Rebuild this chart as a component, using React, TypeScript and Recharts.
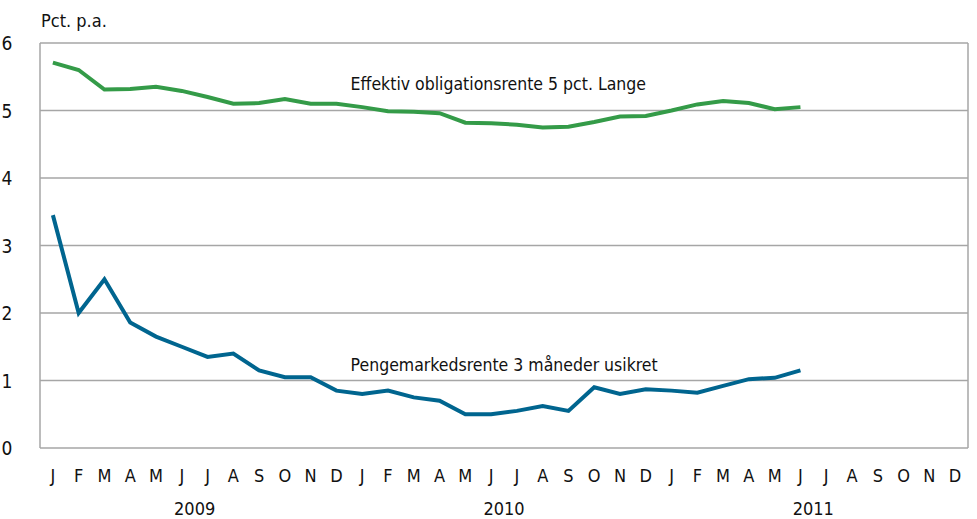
import React from "react";
import {
  LineChart,
  Line,
  XAxis,
  YAxis,
  CartesianGrid,
  ReferenceDot,
} from "recharts";

const monthLetters = ["J", "F", "M", "A", "M", "J", "J", "A", "S", "O", "N", "D"];
const years = ["2009", "2010", "2011"];

const obligationsrente = [
  5.71, 5.6, 5.31, 5.32, 5.35, 5.29, 5.2, 5.1, 5.11, 5.17, 5.1, 5.1,
  5.05, 4.99, 4.98, 4.96, 4.82, 4.81, 4.79, 4.75, 4.76, 4.83, 4.91, 4.92,
  5.0, 5.09, 5.14, 5.11, 5.02, 5.05,
];
const pengemarkedsrente = [
  3.45, 2.0, 2.5, 1.86, 1.65, 1.5, 1.35, 1.4, 1.15, 1.05, 1.05, 0.85,
  0.8, 0.85, 0.75, 0.7, 0.5, 0.5, 0.55, 0.62, 0.55, 0.9, 0.8, 0.87,
  0.85, 0.82, 0.92, 1.02, 1.04, 1.15,
];

const yTicks = [0, 1, 2, 3, 4, 5, 6];
const yearBoundaries = [0, 12, 24, 36];
const monthTicks = Array.from({ length: 36 }, (_, i) => i + 0.5);
const yearTicks = [6, 18, 30];

const data = obligationsrente.map((v, i) => ({
  t: i + 0.5,
  obl: v,
  pm: pengemarkedsrente[i],
}));

const FONT = "'Liberation Sans Narrow', 'DejaVu Sans Condensed', 'Roboto', sans-serif";
const TEXT = "#111";

const YTick = (props: any) => {
  const { x, y, payload } = props;
  return (
    <text x={x - 25} y={y} dy={7} textAnchor="middle" fontFamily={FONT} fontSize={19} fill={TEXT}>
      {payload.value}
    </text>
  );
};

const MonthTick = (props: any) => {
  const { x, y, payload } = props;
  const idx = Math.floor(payload.value) % 12;
  return (
    <text x={x} y={y} dy={32} textAnchor="middle" fontFamily={FONT} fontSize={18} fill={TEXT}>
      {monthLetters[idx]}
    </text>
  );
};

const YearTick = (props: any) => {
  const { x, y, payload } = props;
  const idx = Math.floor(payload.value / 12);
  return (
    <text x={x} y={y} dy={25} textAnchor="middle" fontFamily={FONT} fontSize={18} fill={TEXT}>
      {years[idx]}
    </text>
  );
};

const makeLabel = (text: string) => (props: any) => {
  const { viewBox } = props;
  return (
    <text x={viewBox.x} y={viewBox.y} dy={6} textAnchor="start" fontFamily={FONT} fontSize={17.5} fill={TEXT}>
      {text}
    </text>
  );
};

export default function App() {
  return (
    <div style={{ position: "absolute", left: 0, top: 0, width: 977, height: 519, background: "#fff" }}>
      <LineChart
        width={977}
        height={519}
        data={data}
        margin={{ top: 43, right: 9, left: 0, bottom: 0 }}
      >
        <text x={41} y={27} fontFamily={FONT} fontSize={18} fill={TEXT}>
          Pct. p.a.
        </text>
        <CartesianGrid stroke="#a6a6a6" strokeWidth={1.5} vertical horizontal />
        <XAxis
          dataKey="t"
          type="number"
          domain={[0, 36]}
          ticks={yearBoundaries}
          tick={false}
          tickLine={false}
          axisLine={{ stroke: "#000", strokeWidth: 2.5 }}
          height={0}
          interval={0}
        />
        <XAxis
          xAxisId="m"
          dataKey="t"
          type="number"
          domain={[0, 36]}
          ticks={monthTicks}
          tick={<MonthTick />}
          tickLine={false}
          axisLine={false}
          height={40}
          interval={0}
          tickSize={0}
        />
        <XAxis
          xAxisId="y"
          dataKey="t"
          type="number"
          domain={[0, 36]}
          ticks={yearTicks}
          tick={<YearTick />}
          tickLine={false}
          axisLine={false}
          height={31}
          interval={0}
          tickSize={0}
        />
        <YAxis
          type="number"
          domain={[0, 6]}
          ticks={yTicks}
          tick={<YTick />}
          tickLine={false}
          axisLine={false}
          width={40}
          interval={0}
        />
        <Line
          type="linear"
          dataKey="obl"
          stroke="#349b48"
          strokeWidth={4}
          dot={false}
          isAnimationActive={false}
        />
        <Line
          type="linear"
          dataKey="pm"
          stroke="#00658f"
          strokeWidth={4}
          dot={false}
          isAnimationActive={false}
        />
        <ReferenceDot
          x={12.05}
          y={5.4}
          r={0}
          fill="none"
          stroke="none"
          label={makeLabel("Effektiv obligationsrente 5 pct. Lange")}
        />
        <ReferenceDot
          x={12.05}
          y={1.23}
          r={0}
          fill="none"
          stroke="none"
          label={makeLabel("Pengemarkedsrente 3 måneder usikret")}
        />
      </LineChart>
    </div>
  );
}
